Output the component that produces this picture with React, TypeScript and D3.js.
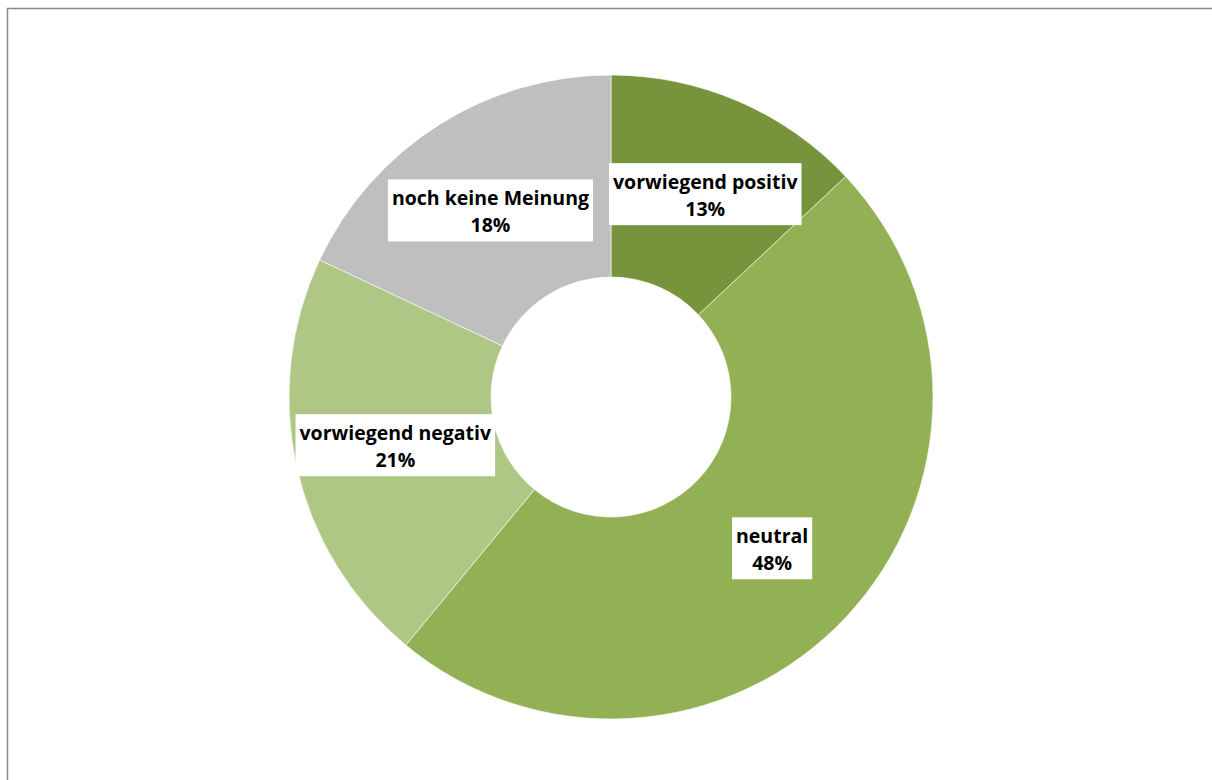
import React, { useEffect, useRef } from "react";
import * as d3 from "d3";

const categories = ["vorwiegend positiv", "neutral", "vorwiegend negativ", "noch keine Meinung"];
const values = [13, 48, 21, 18];
const valueLabels = ["13%", "48%", "21%", "18%"];
const colors = ["#77933C", "#92B054", "#AEC785", "#BFBFBF"];

const W = 1212;
const H = 780;
const CX = 611;
const CY = 397;
const R_OUT = 322;
const R_IN = 120;

export default function App() {
  const ref = useRef<SVGSVGElement | null>(null);

  useEffect(() => {
    const svg = d3.select(ref.current);
    svg.selectAll("*").remove();

    svg
      .append("rect")
      .attr("x", 7.5)
      .attr("y", 8.5)
      .attr("width", W + 20)
      .attr("height", H + 20)
      .attr("fill", "#fff")
      .attr("stroke", "#888888")
      .attr("stroke-width", 1.5);

    const data = categories.map((c, i) => ({ name: c, value: values[i], label: valueLabels[i], color: colors[i] }));
    const pie = d3.pie<any>().value((d: any) => d.value).sort(null);
    const arcs = pie(data);
    const arc = d3.arc<any>().innerRadius(R_IN).outerRadius(R_OUT);

    const g = svg.append("g").attr("transform", `translate(${CX},${CY})`);
    g.selectAll("path.slice")
      .data(arcs)
      .enter()
      .append("path")
      .attr("class", "slice")
      .attr("d", arc as any)
      .attr("fill", (d: any) => d.data.color)
      .attr("stroke", "#ffffff")
      .attr("stroke-width", 0.6);

    const fontFamily = "'Open Sans', Lato, sans-serif";
    const fontSize = 19.5;
    arcs.forEach((a: any) => {
      let [x, y] = arc.centroid(a);
      const lg = g.append("g");
      const rect = lg.append("rect").attr("fill", "#ffffff");
      const t1 = lg
        .append("text")
        .attr("text-anchor", "middle")
        .attr("y", -5)
        .attr("font-family", fontFamily)
        .attr("font-weight", "bold")
        .attr("font-size", fontSize)
        .attr("fill", "#000")
        .text(a.data.name);
      lg.append("text")
        .attr("text-anchor", "middle")
        .attr("y", 22)
        .attr("font-family", fontFamily)
        .attr("font-weight", "bold")
        .attr("font-size", fontSize)
        .attr("fill", "#000")
        .text(a.data.label);
      const w = (t1.node() as SVGTextElement).getComputedTextLength() + 8;
      // keep top labels clear of the vertical slice boundary at 12 o'clock
      if (y < 0 && x < 0 && x + w / 2 > -18) x = -18 - w / 2;
      if (y < 0 && x > 0 && x - w / 2 < -2) x = -2 + w / 2;
      lg.attr("transform", `translate(${x},${y})`);
      rect.attr("x", -w / 2).attr("y", -31).attr("width", w).attr("height", 62);
    });
  }, []);

  return (
    <svg
      ref={ref}
      width={W}
      height={H}
      style={{ position: "absolute", left: 0, top: 0, display: "block" }}
    />
  );
}
